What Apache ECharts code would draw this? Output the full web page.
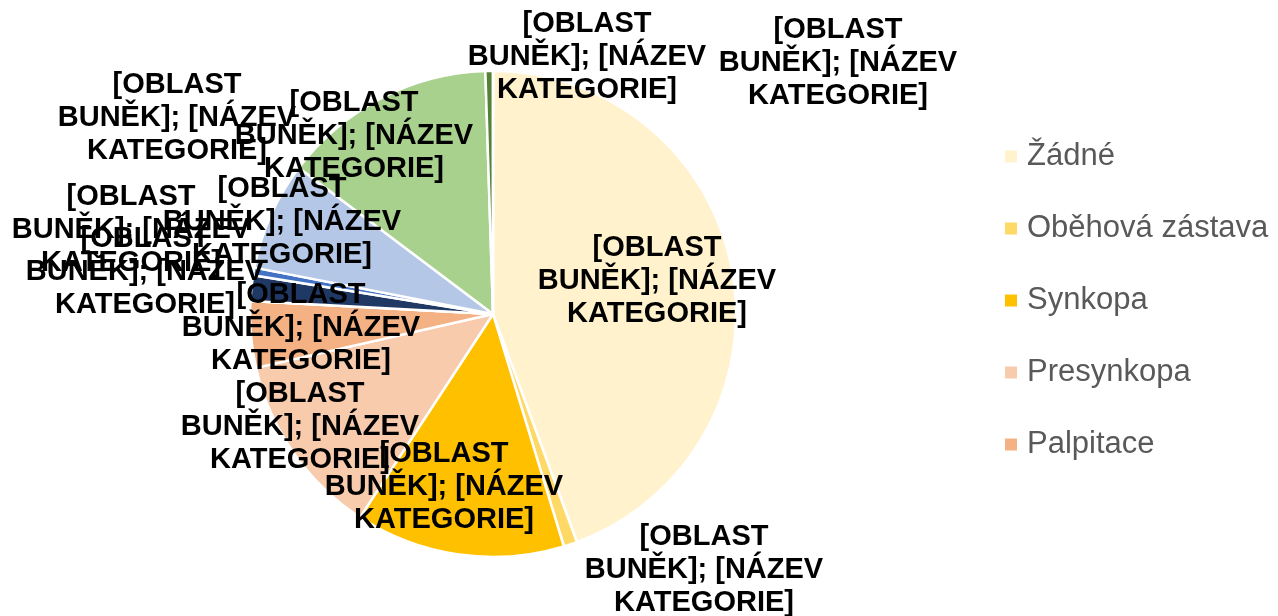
<!DOCTYPE html>
<html>
<head>
<meta charset="utf-8">
<script src="https://cdn.jsdelivr.net/npm/echarts@6/dist/echarts.min.js"></script>
<style>
  html, body { margin: 0; padding: 0; background: #fff; }
  #chart { width: 1278px; height: 616px; }
</style>
</head>
<body>
<div id="chart"></div>
<script>
// kategorie (legenda ukazuje jen prvních pět)
const categories = [
  'Žádné', 'Oběhová zástava', 'Synkopa', 'Presynkopa', 'Palpitace',
  'Bolest na hrudi', 'Dušnost', 'Slabost', 'Závratě', 'Kolaps', 'Jiné', 'Neuvedeno'
];
// podíly v %
const values = [44.3, 0.9, 13.9, 12.2, 4.4, 0, 1.7, 0.5, 7.2, 14.2, 0.5, 0];
const colors = [
  '#FFF2CC', '#FFD966', '#FFC000', '#F8CBAD', '#F4B183', '#C55A11',
  '#203864', '#4472C4', '#B4C7E7', '#A9D18E', '#548235', '#385723'
];
const legendNames = categories.slice(0, 5);
const labelText = '[OBLAST\nBUNĚK]; [NÁZEV\nKATEGORIE]';

// kde Excel umístil popisky (střed bloku textu)
const labelPos = [
  [657, 281], [704, 570], [444, 487], [300, 427], [301, 328], [145, 272],
  [131, 230], [177, 118], [282, 222], [354, 136], [587, 57], [838, 63]
];

const chart = echarts.init(document.getElementById('chart'), null, { renderer: 'canvas' });

chart.setOption({
  animation: false,
  color: colors,
  legend: {
    data: legendNames,
    orient: 'vertical',
    left: 1000,
    top: 136,
    itemWidth: 12,
    itemHeight: 12,
    itemGap: 41,
    icon: 'rect',
    itemStyle: { borderWidth: 0 },
    textStyle: {
      fontFamily: 'Liberation Sans, Arial, sans-serif',
      fontSize: 31,
      color: '#595959',
      padding: [0, 0, 0, 5]
    }
  },
  series: [{
    type: 'pie',
    center: [493, 314],
    radius: 243,
    startAngle: 90,
    clockwise: true,
    avoidLabelOverlap: false,
    itemStyle: { borderColor: '#fff', borderWidth: 2.5 },
    label: {
      show: true,
      position: 'inside',
      formatter: () => labelText,
      fontFamily: 'Liberation Sans, Arial, sans-serif',
      fontWeight: 'bold',
      fontSize: 29,
      lineHeight: 33,
      color: '#000',
      align: 'center'
    },
    labelLine: { show: false },
    labelLayout: (params) => {
      const p = labelPos[params.dataIndex];
      return { x: p[0], y: p[1], align: 'center', verticalAlign: 'middle' };
    },
    emphasis: { disabled: true },
    data: categories.map((name, i) => ({ name, value: values[i] }))
  }]
});
</script>
</body>
</html>
